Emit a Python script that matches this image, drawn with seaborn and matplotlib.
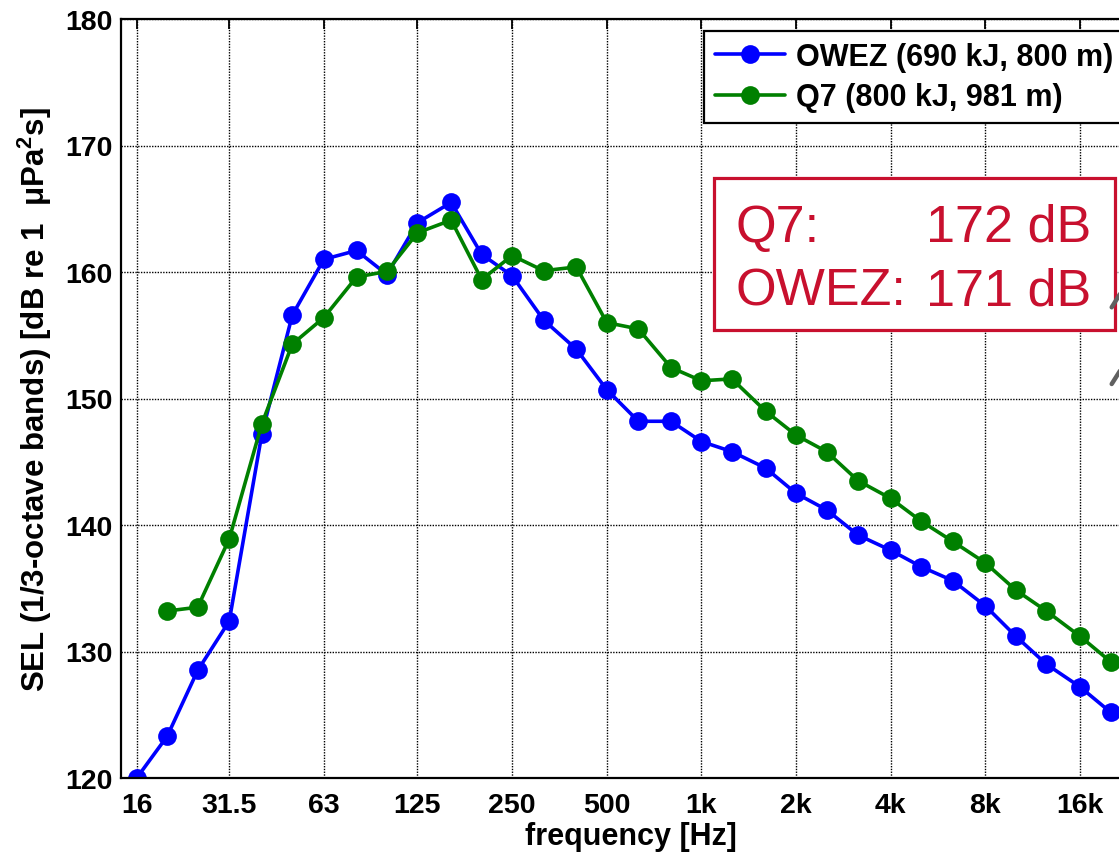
import numpy as np
import pandas as pd
import matplotlib
matplotlib.use("Agg")
import matplotlib.pyplot as plt
import seaborn as sns
from matplotlib.patches import Rectangle
from matplotlib.lines import Line2D
from matplotlib.ticker import NullLocator

# ---------------- data ----------------
freqs = [16, 20, 25, 31.5, 40, 50, 63, 80, 100, 125, 160, 200, 250, 315, 400, 500,
         630, 800, 1000, 1250, 1600, 2000, 2500, 3150, 4000, 5000, 6300, 8000,
         10000, 12500, 16000, 20000]
owez = [120.0, 123.3, 128.5, 132.4, 147.2, 156.6, 161.0, 161.7, 159.8, 163.9, 165.5,
        161.4, 159.7, 156.2, 153.9, 150.7, 148.2, 148.2, 146.6, 145.8, 144.5, 142.5,
        141.2, 139.2, 138.0, 136.7, 135.6, 133.6, 131.2, 129.0, 127.2, 125.2]
q7_freqs = freqs[1:]
q7 = [133.2, 133.5, 138.9, 148.0, 154.3, 156.4, 159.6, 160.05, 163.1, 164.1, 159.4,
      161.3, 160.1, 160.4, 156.0, 155.5, 152.45, 151.4, 151.55, 149.0, 147.1, 145.8,
      143.5, 142.1, 140.3, 138.7, 137.0, 134.85, 133.2, 131.2, 129.2]
series_names = ["OWEZ (690 kJ, 800 m)", "Q7 (800 kJ, 981 m)"]
series_colors = ["#0000FF", "#008000"]
xtick_vals = [16, 31.5, 63, 125, 250, 500, 1000, 2000, 4000, 8000, 16000]
xtick_labels = ["16", "31.5", "63", "125", "250", "500", "1k", "2k", "4k", "8k", "16k"]
ytick_vals = [120, 130, 140, 150, 160, 170, 180]
box_lines = [("Q7:", "172 dB"), ("OWEZ:", "171 dB")]

df = pd.concat([
    pd.DataFrame({"freq": freqs, "SEL": owez, "series": series_names[0]}),
    pd.DataFrame({"freq": q7_freqs, "SEL": q7, "series": series_names[1]}),
], ignore_index=True)

# ---------------- style ----------------
sns.set_style("white")
plt.rcParams["font.family"] = ["Liberation Sans", "DejaVu Sans"]
plt.rcParams["font.weight"] = "bold"
for k in ["text.color", "axes.labelcolor", "xtick.color", "ytick.color", "axes.edgecolor"]:
    plt.rcParams[k] = "black"
plt.rcParams["mathtext.fontset"] = "custom"
plt.rcParams["mathtext.rm"] = "Liberation Sans:bold"
plt.rcParams["mathtext.it"] = "Liberation Sans:bold"
plt.rcParams["mathtext.bf"] = "Liberation Sans:bold"

W, H = 1119, 853
fig = plt.figure(figsize=(W / 100, H / 100), dpi=100)
fig.patch.set_facecolor("white")

def fx(px):
    return px / W

def fy(py):
    return 1 - py / H

left_px, right_px, top_px, bottom_px = 121.1, 1141.0, 20.0, 779.0
ax = fig.add_axes([fx(left_px), fy(bottom_px), fx(right_px - left_px), (bottom_px - top_px) / H])

sns.lineplot(data=df, x="freq", y="SEL", hue="series", palette=series_colors,
             hue_order=series_names, marker="o", markersize=13.5, markeredgewidth=0,
             linewidth=2.6, errorbar=None, ax=ax, legend=True)

ax.set_xscale("log", base=2)
ax.set_xlim(14.27, 25000)
ax.set_ylim(120, 180)
ax.set_xticks(xtick_vals)
ax.set_xticklabels(xtick_labels)
ax.xaxis.set_minor_locator(NullLocator())
ax.set_yticks(ytick_vals)
ax.set_yticklabels([str(v) for v in ytick_vals])

ax.grid(True, which="major", color="black", linestyle=(0, (1, 1)), linewidth=1.0)
ax.set_axisbelow(True)
for s in ax.spines.values():
    s.set_visible(True)
    s.set_color("black")
    s.set_linewidth(1.6)
ax.tick_params(axis="both", which="major", direction="in", length=7, width=1.3,
               top=True, right=True, labelsize=20.5, colors="black")
ax.tick_params(axis="x", pad=10)
ax.tick_params(axis="y", pad=6)
for lab in ax.get_xticklabels() + ax.get_yticklabels():
    lab.set_fontweight("bold")

ax.set_xlabel("frequency [Hz]", fontsize=22, fontweight="bold", labelpad=2)
ax.set_ylabel("SEL (1/3-octave bands) [dB re 1  \u03bcPa$^2$s]", fontsize=22.5,
              fontweight="bold", labelpad=8)

handles, labels = ax.get_legend_handles_labels()
leg = ax.legend(handles, labels, loc="upper left",
                bbox_to_anchor=(fx(704), fy(32)), bbox_transform=fig.transFigure,
                borderaxespad=0, frameon=True, fancybox=False, framealpha=1,
                edgecolor="black", handlelength=2.3, handletextpad=0.35,
                labelspacing=0.35, borderpad=0.35, prop={"weight": "bold", "size": 22})
leg.get_frame().set_linewidth(1.6)
for h in leg.legend_handles:
    h.set_linewidth(2.6)
    h.set_markersize(13.5)
    h.set_markeredgewidth(0)

# red annotation box
red = "#C8102E"
fig.add_artist(Rectangle((fx(714), fy(331)), fx(1115 - 714), (331 - 179) / H,
                         transform=fig.transFigure, facecolor="white", edgecolor=red,
                         linewidth=2.3, zorder=5))
for (lab, val), base in zip(box_lines, [242, 305]):
    fig.text(fx(735), fy(base), lab, color=red, fontsize=37.5, fontweight="normal",
             ha="left", va="baseline", zorder=6)
    fig.text(fx(1091), fy(base), val, color=red, fontsize=37.5, fontweight="normal",
             ha="right", va="baseline", zorder=6)

# grey arrow fragments at right edge
for (x0, y0, x1, y1) in [(1111.7, 308.3, 1130, 279), (1111.7, 385, 1130, 356)]:
    fig.add_artist(Line2D([fx(x0), fx(x1)], [fy(y0), fy(y1)], transform=fig.transFigure,
                          color="#606060", linewidth=3.2, zorder=6))

fig.savefig("out.png", dpi=100)
